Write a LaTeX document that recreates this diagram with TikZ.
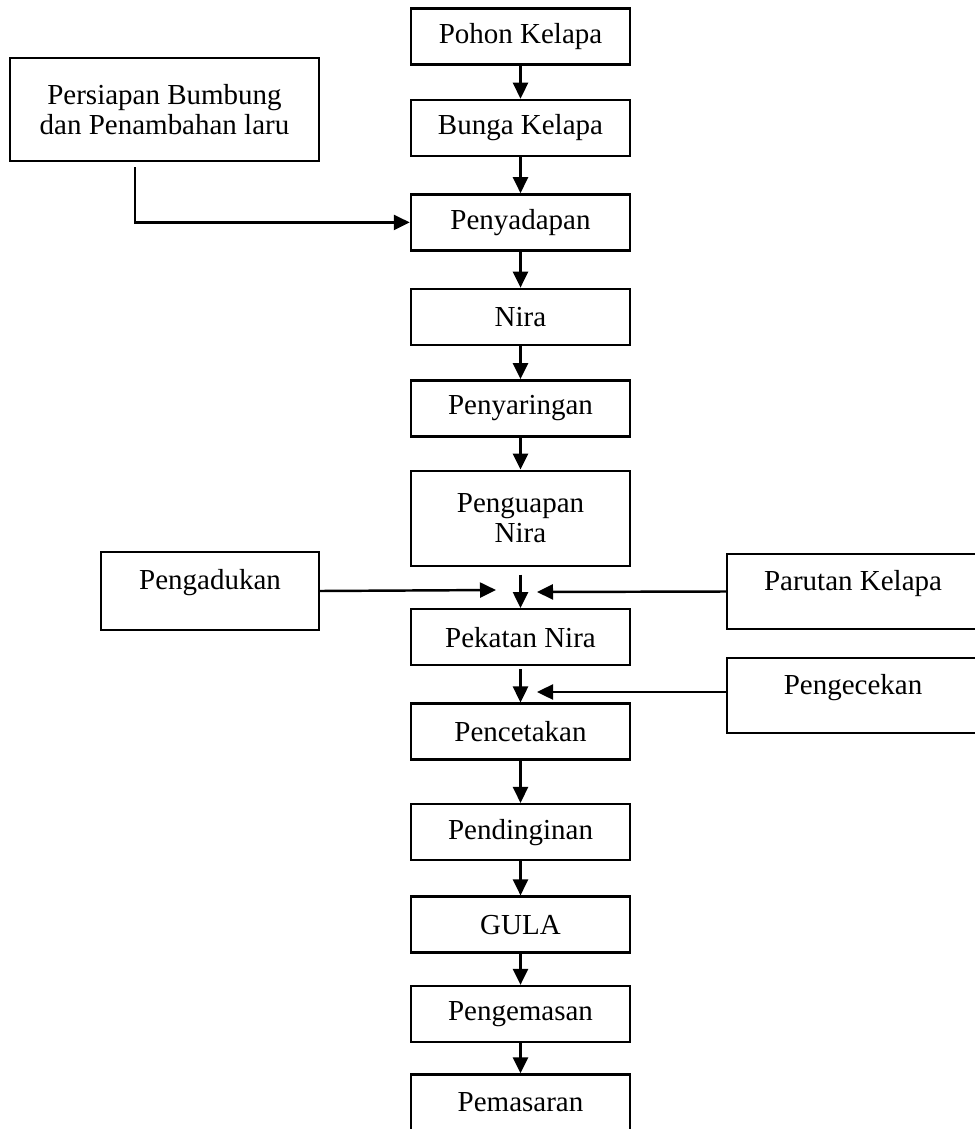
\documentclass[tikz,border=0pt]{standalone}
\usepackage{fontspec}
\setmainfont{Liberation Serif}
\usepackage{tikz}
\usetikzlibrary{arrows.meta, positioning, calc}
\newcommand{\procfont}{\fontsize{16.5}{17}\selectfont}
\tikzset{
  block/.style={rectangle, draw=black, align=center, minimum width=4.38cm,
    minimum height=1.12cm, font=\procfont, line width=1.4pt},
  sidebox/.style={rectangle, draw=black, align=center, minimum height=1.5cm,
    font=\procfont, line width=1.4pt},
  toptext/.style={text depth=0.45cm},
  arrow/.style={-{Triangle[length=0.32cm, width=0.3cm]}, line width=1.4pt},
  line/.style={line width=1.4pt}
}

\begin{document}
\begin{tikzpicture}[node distance=0.7cm]
  \useasboundingbox (0,0) rectangle (19.48,-22.58);

  % Main process
  \node[block] (pohon) at (10.41,-0.73) {Pohon Kelapa};
  \node[block, below=0.66cm of pohon] (bunga) {Bunga Kelapa};
  \node[block, below=0.72cm of bunga] (sadap) {Penyadapan};
  \node[block, below=0.72cm of sadap] (nira) {Nira};
  \node[block, below=0.66cm of nira] (saring) {Penyaringan};
  \node[block, below=0.64cm of saring, minimum height=1.9cm] (guap) {Penguapan\\Nira};
  \node[block, below=0.82cm of guap] (pekat) {Pekatan Nira};
  \node[block, below=0.72cm of pekat] (cetak) {Pencetakan};
  \node[block, below=0.84cm of cetak] (dingin) {Pendinginan};
  \node[block, below=0.68cm of dingin] (gula) {GULA};
  \node[block, below=0.62cm of gula] (kemas) {Pengemasan};
  \node[block, below=0.60cm of kemas] (pasar) {Pemasaran};

  % Side inputs
  \node[sidebox, minimum width=6.18cm, minimum height=2.06cm] (persiapan) at (3.29,-2.19) {Persiapan Bumbung\\dan Penambahan laru};
  \node[sidebox, toptext, minimum width=4.36cm, minimum height=1.56cm] (aduk) at (4.2,-11.82) {Pengadukan};
  \node[sidebox, toptext, minimum width=5.04cm] (parut) at (17.06,-11.83) {Parutan Kelapa};
  \node[sidebox, toptext, minimum width=5.04cm] (cek) at (17.06,-13.91) {Pengecekan};

  % Free ends of side arrows
  \coordinate (adukEnd) at (9.92,-11.80);
  \coordinate (parutEnd) at (10.74,-11.84);
  \coordinate (cekEnd) at (10.74,-13.84);

  % Connections
  \draw[arrow] (pohon) -- (bunga);
  \draw[arrow] (bunga) -- (sadap);
  \draw[arrow] (sadap) -- (nira);
  \draw[arrow] (nira) -- (saring);
  \draw[arrow] (saring) -- (guap);
  \draw[arrow, shorten <=0.15cm] (guap) -- (pekat);
  \draw[arrow, shorten <=0.06cm] (pekat) -- (cetak);
  \draw[arrow] (cetak) -- (dingin);
  \draw[arrow] (dingin) -- (gula);
  \draw[arrow] (gula) -- (kemas);
  \draw[arrow] (kemas) -- (pasar);

  \draw[arrow] ([xshift=-0.59cm, yshift=-0.1cm]persiapan.south) |- (sadap.west);
  \draw[arrow] (aduk.east) -- (adukEnd);
  \draw[arrow] (parut.west) -- (parutEnd);
  \draw[arrow] (cek.west |- cekEnd) -- (cekEnd);
\end{tikzpicture}
\end{document}
